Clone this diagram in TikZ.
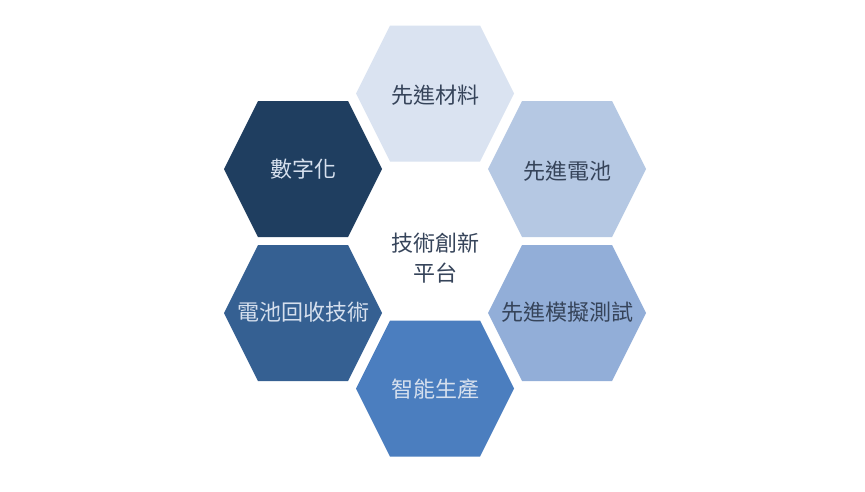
\documentclass[tikz,border=0pt]{standalone}
\usepackage{fontspec}
\newfontfamily\cjk{Noto Sans CJK TC}
\definecolor{hA}{HTML}{DAE3F1}
\definecolor{hB}{HTML}{B5C8E3}
\definecolor{hC}{HTML}{92AED8}
\definecolor{hD}{HTML}{4B7EBF}
\definecolor{hE}{HTML}{356092}
\definecolor{hF}{HTML}{1F3E60}
\definecolor{darktxt}{HTML}{36445A}
\definecolor{lighttxt}{HTML}{D6E0EE}
\tikzset{
  hexlabel/.style={font=\cjk\fontsize{22}{26}\selectfont, inner sep=0pt},
}
\newcommand{\hexat}[3]{%
  \fill[#3] (#1-79,#2) -- (#1-45,#2-68) -- (#1+45,#2-68) -- (#1+79,#2) -- (#1+45,#2+68) -- (#1-45,#2+68) -- cycle;}
\begin{document}
\begin{tikzpicture}[x=1pt,y=-1pt]
\useasboundingbox[fill=white] (0,0) rectangle (865,491);
\hexat{435}{93.5}{hA}
\hexat{567}{169}{hB}
\hexat{567}{313}{hC}
\hexat{435}{388.5}{hD}
\hexat{303}{313}{hE}
\hexat{303}{169}{hF}
\node[hexlabel, text=darktxt] (n1) at (435,95) {先進材料};
\node[hexlabel, text=darktxt] (n2) at (567,171) {先進電池};
\node[hexlabel, text=darktxt] (n3) at (567,312) {先進模擬測試};
\node[hexlabel, text=lighttxt] (n4) at (435,389) {智能生產};
\node[hexlabel, text=lighttxt] (n5) at (303,312) {電池回收技術};
\node[hexlabel, text=lighttxt] (n6) at (303,169) {數字化};
\node[hexlabel, text=darktxt, align=center, font=\cjk\fontsize{22}{30}\selectfont] (c) at (435,258) {技術創新\\平台};
\end{tikzpicture}
\end{document}
